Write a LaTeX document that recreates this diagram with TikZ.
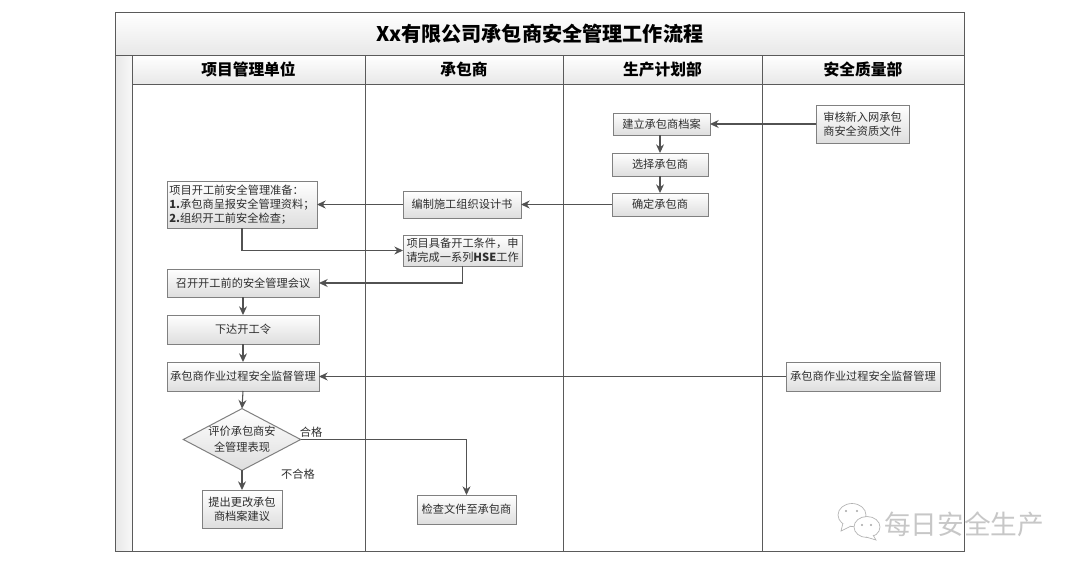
\documentclass[tikz,border=0pt]{standalone}
\usepackage{fontspec}
\setmainfont{Noto Sans CJK SC}
\usetikzlibrary{shapes.geometric,shadows,arrows.meta}
\definecolor{ink}{HTML}{2E2E2E}
\definecolor{edgegray}{HTML}{808080}
\definecolor{frameline}{HTML}{5A5A5A}
\tikzset{
  x=0.75pt,y=-0.75pt,
  basebox/.style={rectangle,inner sep=0pt,outer sep=0pt,text=ink,font=\fontsize{8.4pt}{10.4pt}\selectfont,align=center},
  flowbox/.style={basebox,draw=edgegray,line width=0.75pt,top color=white,bottom color=black!13,
    drop shadow={shadow xshift=0.4pt,shadow yshift=-0.4pt,fill=black!25,opacity=1}},
  lane/.style={rectangle,draw=frameline,line width=0.7pt,inner sep=0pt,outer sep=0pt},
  lanehead/.style={lane,top color=white,bottom color=black!9,text=black,font=\bfseries\fontsize{11.8pt}{13pt}\selectfont},
  titlebar/.style={lane,top color=white,bottom color=black!9,text=black,font=\bfseries\fontsize{15.1pt}{17pt}\selectfont},
  strip/.style={lane,left color=black!9,right color=black!3},
  decision/.style={diamond,aspect=1.9,inner sep=0pt,outer sep=0pt,draw=edgegray,line width=0.75pt,top color=white,bottom color=black!13,text=ink,font=\fontsize{8.4pt}{12pt}\selectfont,align=center},
  flow/.style={draw=black!68,line width=0.8pt,-{Stealth[length=6.5pt,width=6pt]}},
  tag/.style={inner sep=0pt,text=ink,font=\fontsize{8.4pt}{10pt}\selectfont},
  mark bubble/.style={draw=black!30,line width=0.5pt,fill=white},
}
% name, x1, y1, x2, y2, style, text
\newcommand{\placebox}[7]{%
  \pgfmathsetmacro{\bw}{(#4-#2)*0.75}%
  \pgfmathsetmacro{\bh}{(#5-#3)*0.75}%
  \node[#6,minimum width=\bw pt,minimum height=\bh pt] (#1) at ({(#2+#4)/2},{(#3+#5)/2}) {#7};%
}
\begin{document}
\begin{tikzpicture}
\useasboundingbox (0,0) rectangle (1080,571);
\fill[white] (0,0) rectangle (1080,571);
% frame
\placebox{title}{115.5}{12.5}{964}{55}{titlebar}{Xx有限公司承包商安全管理工作流程}
\placebox{leftstrip}{115.5}{55}{132}{551}{strip}{}
\placebox{bodya}{132}{84}{365}{551}{lane}{}
\placebox{bodyb}{365}{84}{563}{551}{lane}{}
\placebox{bodyc}{563}{84}{762}{551}{lane}{}
\placebox{bodyd}{762}{84}{964}{551}{lane}{}
\placebox{heada}{132}{55}{365}{84}{lanehead}{项目管理单位}
\placebox{headb}{365}{55}{563}{84}{lanehead}{承包商}
\placebox{headc}{563}{55}{762}{84}{lanehead}{生产计划部}
\placebox{headd}{762}{55}{964}{84}{lanehead}{安全质量部}
% boxes
\placebox{audit}{816}{105}{909}{143}{flowbox}{审核新入网承包\\商安全资质文件}
\placebox{archive}{613}{113}{710}{135}{flowbox}{建立承包商档案}
\placebox{choose}{612}{153}{708}{176}{flowbox}{选择承包商}
\placebox{confirm}{612}{193}{708}{216}{flowbox}{确定承包商}
\placebox{design}{403}{191}{521}{218}{flowbox}{编制施工组织设计书}
\placebox{prep}{167}{181}{317}{228}{flowbox,align=left}{项目开工前安全管理准备：\\\textbf{1.}承包商呈报安全管理资料；\\\textbf{2.}组织开工前安全检查；}
\placebox{ready}{403}{235}{522}{266}{flowbox}{项目具备开工条件，申\\请完成一系列\textbf{HSE}工作}
\placebox{meeting}{167}{269}{319}{297}{flowbox}{召开开工前的安全管理会议}
\placebox{order}{167}{315}{319}{344}{flowbox}{下达开工令}
\placebox{supervise}{167}{362}{319}{391}{flowbox}{承包商作业过程安全监督管理}
\placebox{supright}{786}{362}{940}{391}{flowbox}{承包商作业过程安全监督管理}
\pgfmathsetmacro{\dw}{116*0.75}
\pgfmathsetmacro{\dh}{61*0.75}
\node[decision,minimum width=\dw pt,minimum height=\dh pt] (judge) at (242,439.5) {评价承包商安\\全管理表现};
\placebox{propose}{202}{490}{282}{528}{flowbox}{提出更改承包\\商档案建议}
\placebox{check}{417}{495}{516}{524}{flowbox}{检查文件至承包商}
% connectors
\draw[flow] (audit.west) -- (archive.east);
\draw[flow] (archive.south -| choose.north) -- (choose.north);
\draw[flow] (choose.south) -- (confirm.north);
\draw[flow] (confirm.west) -- (design.east);
\draw[flow] (design.west) -- (prep.east);
\draw[flow] (prep.south) |- (ready.west);
\draw[flow] (ready.south) |- (meeting.east);
\draw[flow] (meeting.south) -- (order.north);
\draw[flow] (order.south) -- (supervise.north);
\draw[flow] (supright.west) -- (supervise.east);
\draw[flow] (supervise.south) -- (judge.north);
\draw[flow] (judge.south) -- (propose.north);
\draw[flow] (judge.east) -| (check.north);
% labels
\node[tag] (pass) at (311,432.5) {合格};
\node[tag] (fail) at (298,474) {不合格};
% watermark
\begin{scope}
\draw[mark bubble] (852,515) ellipse (14 and 11.5);
\draw[mark bubble] (843,523) -- (841,531) -- (851,526);
\draw[mark bubble] (867,527) ellipse (13 and 10.5);
\draw[mark bubble] (873,535) -- (876,540) -- (866,537);
\fill[black!35] (846,511) circle (1.2) (857,511) circle (1.2) (862,525) circle (1.2) (871,525) circle (1.2);
\end{scope}
\node[inner sep=0pt,text=black!22,font=\fontsize{20pt}{22pt}\selectfont] (mark) at (964,524) {每日安全生产};
\end{tikzpicture}
\end{document}
